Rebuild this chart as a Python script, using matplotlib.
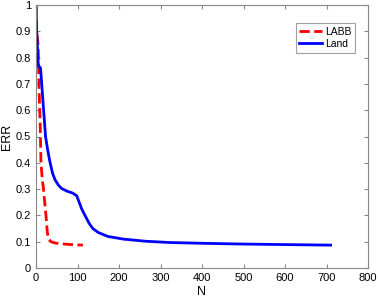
import numpy as np
import matplotlib.pyplot as plt

plt.rcParams['font.family'] = ['Liberation Sans', 'DejaVu Sans']

# LABB curve (red dashed)
labb_n = [0, 1.5, 5, 7, 10, 12, 15, 18, 21, 24, 27, 30, 36, 46, 60, 77, 95, 113]
labb_err = [1.0, 0.9, 0.85, 0.7, 0.55, 0.4, 0.34, 0.3, 0.25, 0.2, 0.14, 0.11, 0.1, 0.095, 0.092, 0.09, 0.088, 0.087]

# Land curve (blue solid)
land_n = [0, 1.6, 5.5, 11, 16, 23, 28, 34, 40, 46, 54, 62, 75, 88, 98, 104, 110, 118, 128, 137, 150, 173, 210, 262, 320, 400, 500, 600, 710]
land_err = [1.0, 0.9, 0.77, 0.76, 0.65, 0.5, 0.45, 0.4, 0.36, 0.335, 0.315, 0.302, 0.292, 0.285, 0.275, 0.25, 0.225, 0.2, 0.17, 0.15, 0.135, 0.12, 0.11, 0.102, 0.097, 0.094, 0.091, 0.089, 0.087]

fig = plt.figure(figsize=(3.78, 3.02), dpi=100)
ax = fig.add_axes([36/378, 1 - 268/302, (368-36)/378, (268-5)/302])

ax.plot(labb_n, labb_err, 'r--', lw=2, label='LABB')
ax.plot(land_n, land_err, 'b-', lw=2, label='Land')

ax.set_xlim(0, 800)
ax.set_ylim(0, 1)
ax.set_xticks(np.arange(0, 801, 100))
ax.set_yticks(np.arange(0, 1.01, 0.1))
ax.set_yticklabels(['0', '0.1', '0.2', '0.3', '0.4', '0.5', '0.6', '0.7', '0.8', '0.9', '1'])
ax.tick_params(direction='in', top=True, right=True, labelsize=8, length=3, color='#888888')
for s in ax.spines.values():
    s.set_color('#888888')
ax.set_xlabel('N', fontsize=9, labelpad=2)
ax.set_ylabel('ERR', fontsize=9, labelpad=2)

leg = ax.legend(loc='upper right', fontsize=7.5, fancybox=False, edgecolor='#888888',
                handlelength=2.2, borderpad=0.35, labelspacing=0.2, handletextpad=0.3,
                bbox_to_anchor=(0.978, 0.95))
leg.get_frame().set_linewidth(0.8)

fig.savefig('out.png')
